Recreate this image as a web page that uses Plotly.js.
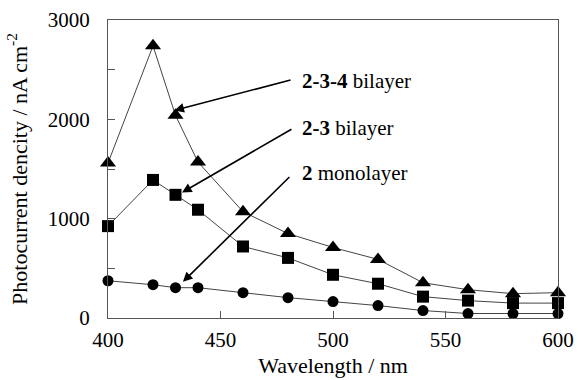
<!DOCTYPE html>
<html>
<head>
<meta charset="utf-8">
<script src="https://cdn.plot.ly/plotly-3.0.1.min.js"></script>
<style>html,body{margin:0;padding:0;background:#fff;}#chart{width:579px;height:380px;}</style>
</head>
<body>
<div id="chart"></div>
<script>
const wavelength = [400, 420, 430, 440, 460, 480, 500, 520, 540, 560, 580, 600];
const bilayer234 = [1560, 2740, 2040, 1570, 1070, 850, 710, 590, 355, 285, 245, 255];
const bilayer23 = [925, 1390, 1240, 1090, 720, 605, 435, 345, 215, 175, 150, 150];
const monolayer2 = [375, 335, 305, 305, 255, 205, 165, 125, 75, 45, 45, 45];
const xTicks = [400, 450, 500, 550, 600];
const yTicks = [0, 1000, 2000, 3000];

const font = {family: 'Liberation Serif, serif', size: 21, color: '#000'};
const titleFont = {family: 'Liberation Serif, serif', size: 22, color: '#000'};
const lineStyle = {color: '#444', width: 1};

const traces = [
  {x: wavelength, y: monolayer2, mode: 'lines+markers', line: lineStyle, cliponaxis: false,
   marker: {symbol: 'circle', size: 11, color: '#000'}, name: '2 monolayer'},
  {x: wavelength, y: bilayer23, mode: 'lines+markers', line: lineStyle, cliponaxis: false,
   marker: {symbol: 'square', size: 12, color: '#000'}, name: '2-3 bilayer'},
  {x: wavelength, y: bilayer234, mode: 'lines+markers', line: lineStyle, cliponaxis: false,
   marker: {symbol: 'triangle-up', size: 14, color: '#000'}, name: '2-3-4 bilayer'}
];

const arrow = (x, y, ax, ay) => ({x, y, ax, ay, xref: 'x', yref: 'y', axref: 'x', ayref: 'y',
  text: '', showarrow: true, arrowhead: 2, arrowsize: 1.2, arrowwidth: 1.6, arrowcolor: '#000'});
const label = (x, y, text) => ({x, y, xref: 'x', yref: 'y', text, showarrow: false,
  xanchor: 'left', yanchor: 'middle', font: font});

const layout = {
  width: 579, height: 380,
  margin: {l: 108, r: 21, t: 20, b: 62},
  paper_bgcolor: '#fff', plot_bgcolor: '#fff',
  showlegend: false,
  font: font,
  xaxis: {
    range: [400, 600], tickvals: xTicks, ticktext: xTicks.map(String),
    ticks: 'inside', ticklen: 7, tickcolor: '#555', tickwidth: 1,
    showline: true, linecolor: '#555', linewidth: 1, mirror: true,
    showgrid: false, zeroline: false, tickfont: font, ticklabelstandoff: 3,
    title: {text: 'Wavelength / nm', font: titleFont, standoff: 6}
  },
  yaxis: {
    range: [0, 3000], tickvals: [0, 500, 1000, 1500, 2000, 2500, 3000],
    ticktext: ['0', '', '1000', '', '2000', '', '3000'],
    ticks: 'inside', ticklen: 7, tickcolor: '#555', tickwidth: 1,
    showline: true, linecolor: '#555', linewidth: 1, mirror: true,
    showgrid: false, zeroline: false, tickfont: font, ticklabelstandoff: 13,
    title: {text: 'Photocurrent dencity / nA cm<sup>-2</sup>', font: titleFont, standoff: 14}
  },
  annotations: [
    arrow(429.5, 2090, 481.8, 2400),
    arrow(432.9, 1263, 482.2, 1909),
    arrow(433.3, 364, 481.3, 1434),
    label(485.5, 2390, '<b>2-3-4</b> bilayer'),
    label(485.5, 1909, '<b>2-3</b> bilayer'),
    label(485.5, 1455, '<b>2</b> monolayer')
  ]
};

Plotly.newPlot('chart', traces, layout, {displayModeBar: false, staticPlot: true});
</script>
</body>
</html>
